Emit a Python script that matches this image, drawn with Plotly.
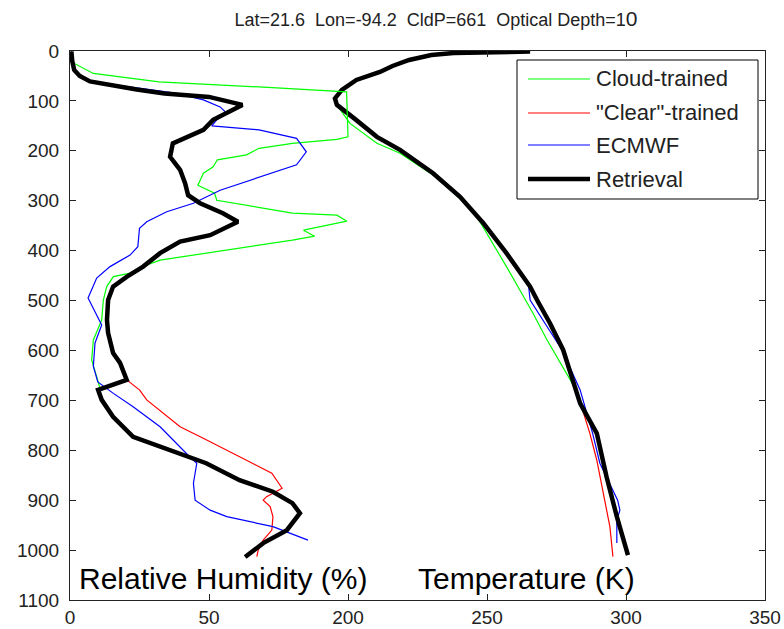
import plotly.graph_objects as go

# ---------------- data ----------------
# Relative humidity profiles (pressure hPa, RH %)
p_ret_rh = [1, 20, 38, 50, 61, 68, 77, 85, 92, 108, 125, 138, 158, 172, 185, 212, 238, 265, 289, 305,
            325, 342, 369, 382, 405, 432, 452, 472, 499, 539, 565, 605, 625, 659, 679, 699, 733, 773,
            793, 813, 826, 860, 883, 906, 926, 960, 986, 1014]
rh_ret = [0.5, 0.8, 1.5, 3.5, 7.2, 14, 24, 34, 50, 62, 56, 51.5, 48, 42, 37, 36, 39.6, 41.4, 42.5, 46.8,
          55, 60.4, 50.4, 39.6, 32.4, 26.3, 20.5, 15.5, 13.7, 13.3, 13.7, 15.5, 18, 20.4, 10.1, 11.4, 15.5,
          22.7, 32.4, 42, 49, 61, 73, 80, 82.7, 78, 69.5, 63]

p_cloud_rh = [1, 24, 45, 62, 72, 82, 172, 177, 185, 195, 208, 218, 232, 245, 269, 285, 299, 325, 329,
              341, 359, 371, 379, 399, 419, 432, 445, 452, 472, 499, 539, 579, 619, 653, 676]
rh_cloud = [0.5, 1.2, 8.4, 32, 68, 99.5, 100, 96, 80, 68, 63.5, 53, 51.5, 48, 46, 52, 52.8, 80, 96,
            99.6, 84, 88, 80, 56.4, 32.4, 26, 21.6, 15.6, 13.2, 12, 11.4, 8.4, 7.8, 9.6, 10.8]

p_ecmwf_rh = [1, 38, 61, 85, 98, 112, 125, 138, 150, 158, 175, 202, 228, 252, 279, 305, 322, 342, 355,
              392, 409, 432, 455, 495, 532, 549, 585, 632, 663, 686, 713, 753, 810, 826, 866, 900, 920,
              933, 953, 980]
rh_ecmwf = [0.5, 1.5, 7, 38.4, 48, 54, 56.4, 52.8, 51, 68, 81.5, 85, 81.5, 68.3, 54, 44.4, 34.8, 27.6, 25,
            24.4, 21.6, 14.4, 9.6, 6.5, 10, 11.4, 9, 8.4, 10, 15.6, 22.7, 32.4, 42.5, 45.6, 44.4, 45, 50.4,
            56.4, 73, 85.6]

p_clear_rh = [659, 679, 699, 726, 753, 779, 806, 826, 846, 876, 893, 900, 913, 933, 960, 980, 1000, 1013]
rh_clear = [20.4, 25, 27.6, 33.6, 39.6, 49, 58.6, 66, 72.6, 76.3, 70.7, 69.5, 72, 73, 72.6, 69.5, 67.7, 67.2]

# Temperature profiles (pressure hPa, T K)
p_ret_t = [1, 2, 4, 8, 18, 30, 42, 58, 78, 95, 108, 134, 172, 198, 245, 292, 345, 405, 472, 499, 532,
           546, 599, 659, 706, 766, 853, 933, 1010]
t_ret = [265.5, 250, 238, 230, 222, 216, 211.5, 203, 197.8, 195.3, 196, 202, 210.4, 218.7, 230.6, 240.3,
         248.7, 257, 265.5, 268, 271.6, 272.7, 277.4, 281, 283.5, 289.5, 293, 296.7, 300.7]

p_cloud_t = [1, 2, 4, 8, 18, 30, 42, 58, 78, 95, 108, 145, 185, 205, 250, 319, 365, 432, 525, 579, 669]
t_cloud = [265.5, 250, 238, 230, 222, 216, 211.5, 203, 197.8, 195.3, 196, 200.7, 210.4, 218.7, 231, 245,
           250, 257, 266.5, 271.6, 281]

p_ecmwf_t = [1, 2, 4, 8, 18, 30, 42, 58, 78, 95, 108, 134, 172, 198, 245, 292, 345, 405, 472, 499, 599,
             679, 766, 826, 880, 900, 920, 940, 986]
t_ecmwf = [265.5, 250, 238, 230, 222, 216, 211.5, 203, 197.8, 195.3, 196, 202, 210.4, 218.3, 230, 240,
           248.3, 256.6, 265, 265.5, 277, 283.5, 288, 290.6, 295.4, 297, 297.8, 296.7, 296.7]

p_clear_t = [659, 713, 766, 820, 900, 953, 1013]
t_clear = [281, 284, 287, 289.5, 292.4, 294.2, 295.3]

x_tickvals = [100, 150, 200, 250, 300, 350]
x_ticktext = ["0", "50", "200", "250", "300", "350"]
y_tickvals = [0, 100, 200, 300, 400, 500, 600, 700, 800, 900, 1000, 1100]

series = [
    ("Cloud-trained", "#00ff00", 1.2, rh_cloud, p_cloud_rh, t_cloud, p_cloud_t),
    ('"Clear"-trained', "#ff0000", 1.2, rh_clear, p_clear_rh, t_clear, p_clear_t),
    ("ECMWF", "#0000ff", 1.2, rh_ecmwf, p_ecmwf_rh, t_ecmwf, p_ecmwf_t),
    ("Retrieval", "#000000", 4.5, rh_ret, p_ret_rh, t_ret, p_ret_t),
]

FONT = "Liberation Sans, Arial, sans-serif"

fig = go.Figure()
for name, color, w, rh, prh, t, pt in series:
    fig.add_trace(go.Scatter(x=rh, y=prh, xaxis="x2", yaxis="y", mode="lines",
                             line=dict(color=color, width=w), name=name, showlegend=False))
    fig.add_trace(go.Scatter(x=t, y=pt, xaxis="x", yaxis="y", mode="lines",
                             line=dict(color=color, width=w), name=name, showlegend=False))

# plot area in pixels
L, R, T, B = 70, 765, 51, 600
W, H = R - L, B - T


def px(x):
    return (x - L) / W


def py(y):
    return (B - y) / H


shapes = [dict(type="rect", xref="paper", yref="paper", x0=px(517), x1=px(758), y0=py(199), y1=py(60),
               line=dict(color="black", width=1), fillcolor="white", layer="above")]
annotations = []
leg_y = [79, 113, 145, 179]
for (name, color, w, *_), yy in zip(series, leg_y):
    shapes.append(dict(type="line", xref="paper", yref="paper", x0=px(528), x1=px(590), y0=py(yy), y1=py(yy),
                       line=dict(color=color, width=w), layer="above"))
    annotations.append(dict(text=name, xref="paper", yref="paper", x=px(594), y=py(yy), xanchor="left",
                            yanchor="middle", showarrow=False, font=dict(size=22, color="#222", family=FONT)))

annotations.append(dict(text="Relative Humidity (%)", xref="paper", yref="paper", x=px(77), y=py(578),
                        xanchor="left", yanchor="middle", showarrow=False,
                        font=dict(size=30, color="black", family=FONT)))
annotations.append(dict(text="Temperature (K)", xref="paper", yref="paper", x=px(637), y=py(578),
                        xanchor="right", yanchor="middle", showarrow=False,
                        font=dict(size=30, color="black", family=FONT)))

axis_common = dict(showline=True, linecolor="#222", linewidth=1, mirror="ticks", ticks="inside",
                   ticklen=6, tickcolor="#222", showgrid=False, zeroline=False, automargin=False,
                   tickfont=dict(size=19, color="#222", family=FONT))

fig.update_layout(
    width=784, height=629,
    margin=dict(l=L, r=784 - R, t=T, b=629 - B),
    paper_bgcolor="white", plot_bgcolor="white",
    title=dict(text="Lat=21.6  Lon=-94.2  CldP=661  Optical Depth=1<span style='font-size:21px'>0</span>",
               x=436 / 784, xanchor="center", y=1 - 20 / 629, yanchor="middle",
               font=dict(size=18, color="#222", family=FONT)),
    xaxis=dict(range=[100, 350], tickvals=x_tickvals, ticktext=x_ticktext, **axis_common),
    xaxis2=dict(range=[0, 250], overlaying="x", visible=False),
    yaxis=dict(range=[1100, 0], tickvals=y_tickvals, ticklabelstandoff=6, **axis_common),
    shapes=shapes, annotations=annotations, showlegend=False,
)

fig.write_html("out.html", config={"displayModeBar": False},
               post_script="document.body.style.margin='0';document.body.style.padding='0';")
